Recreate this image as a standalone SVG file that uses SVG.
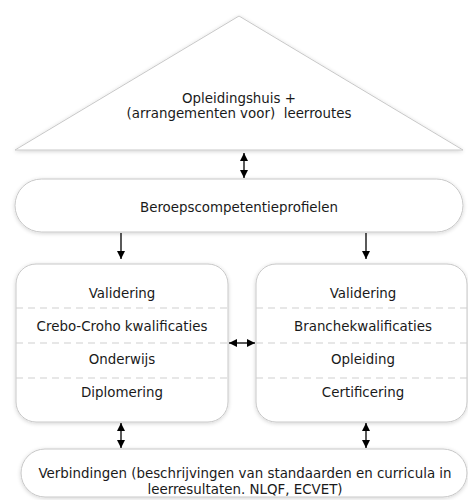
<svg xmlns="http://www.w3.org/2000/svg" width="468" height="500" viewBox="0 0 468 500">
<defs>
<filter id="sh" x="-10%" y="-20%" width="120%" height="140%">
<feGaussianBlur in="SourceAlpha" stdDeviation="2"/>
<feOffset dx="0" dy="1" result="b"/>
<feComponentTransfer><feFuncA type="linear" slope="0.18"/></feComponentTransfer>
<feMerge><feMergeNode/><feMergeNode in="SourceGraphic"/></feMerge>
</filter>
<marker id="ah" viewBox="0 0 8 8" refX="8" refY="4" markerWidth="8" markerHeight="8" markerUnits="userSpaceOnUse" orient="auto-start-reverse">
<path d="M0,0 L8,4 L0,8 z" fill="#000"/>
</marker>
</defs>
<style>
.shape{fill:#fff;stroke:#c8c8c8;stroke-width:1;filter:url(#sh)}
.t{font-family:"DejaVu Sans",Verdana,sans-serif;font-size:13.4px;fill:#1a1a1a;text-anchor:middle;white-space:pre}
.dash{stroke:#cfcfcf;stroke-width:1;stroke-dasharray:7,5}
.c{stroke:#000;stroke-width:1.3;fill:none}
</style>
<rect width="468" height="500" fill="#fff"/>
<g id="opleidingshuis">
<polygon class="shape" points="239,16 463,150 15,150"/>
<text class="t" x="239" y="103">Opleidingshuis +</text>
<text class="t" x="239" y="118" xml:space="preserve">(arrangementen voor)  leerroutes</text>
</g>
<g id="beroepscompetentieprofielen">
<rect class="shape" x="15" y="179" width="448" height="53" rx="26.5"/>
<text class="t" x="239" y="212">Beroepscompetentieprofielen</text>
</g>
<g id="links">
<rect class="shape" x="16" y="264" width="212" height="158" rx="20"/>
<line class="dash" x1="16" y1="308" x2="228" y2="308"/>
<line class="dash" x1="16" y1="343" x2="228" y2="343"/>
<line class="dash" x1="16" y1="378" x2="228" y2="378"/>
<text class="t" x="122" y="298">Validering</text>
<text class="t" x="122" y="331">Crebo-Croho kwalificaties</text>
<text class="t" x="122" y="364">Onderwijs</text>
<text class="t" x="122" y="397">Diplomering</text>
</g>
<g id="rechts">
<rect class="shape" x="256" y="264" width="211" height="158" rx="20"/>
<line class="dash" x1="256" y1="308" x2="467" y2="308"/>
<line class="dash" x1="256" y1="343" x2="467" y2="343"/>
<line class="dash" x1="256" y1="378" x2="467" y2="378"/>
<text class="t" x="363" y="298">Validering</text>
<text class="t" x="363" y="331">Branchekwalificaties</text>
<text class="t" x="363" y="364">Opleiding</text>
<text class="t" x="363" y="397">Certificering</text>
</g>
<g id="verbindingen">
<rect class="shape" x="21" y="449" width="446" height="48" rx="24"/>
<text class="t" x="245" y="478">Verbindingen (beschrijvingen van standaarden en curricula in</text>
<text class="t" x="245" y="494">leerresultaten. NLQF, ECVET)</text>
</g>
<g id="connectors">
<line class="c" x1="244" y1="153" x2="244" y2="178" marker-start="url(#ah)" marker-end="url(#ah)"/>
<line class="c" x1="121" y1="233" x2="121" y2="259" marker-end="url(#ah)"/>
<line class="c" x1="366" y1="233" x2="366" y2="259" marker-end="url(#ah)"/>
<line class="c" x1="229" y1="343" x2="255" y2="343" marker-start="url(#ah)" marker-end="url(#ah)"/>
<line class="c" x1="121" y1="423" x2="121" y2="448" marker-start="url(#ah)" marker-end="url(#ah)"/>
<line class="c" x1="366" y1="423" x2="366" y2="448" marker-start="url(#ah)" marker-end="url(#ah)"/>
</g>
</svg>
